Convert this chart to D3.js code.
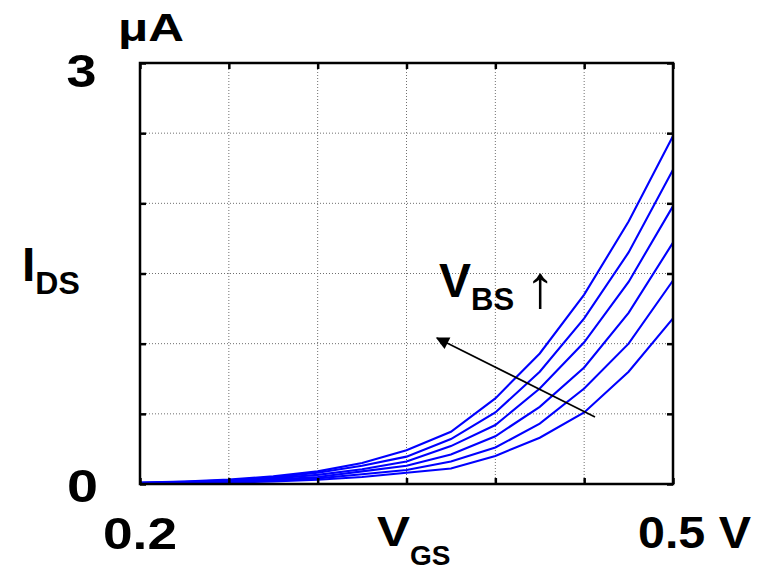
<!DOCTYPE html>
<html>
<head>
<meta charset="utf-8">
<script src="https://cdn.jsdelivr.net/npm/d3@7"></script>
<style>
  html, body { margin: 0; padding: 0; background: #fff; }
  svg { display: block; }
  text { font-family: "Liberation Sans", Arial, Helvetica, sans-serif; font-weight: bold; fill: #000; }
</style>
</head>
<body>
<svg id="chart" width="770" height="572"></svg>
<script>
// Gate voltage samples (V)
const vgs = [0.2, 0.225, 0.25, 0.275, 0.3, 0.325, 0.35, 0.375, 0.4, 0.425, 0.45, 0.475, 0.5];

// Drain current (µA) for increasing body bias, top curve first
const ids1 = [0.010, 0.018, 0.032, 0.055, 0.090, 0.150, 0.240, 0.372, 0.610, 0.930, 1.350, 1.870, 2.480];
const ids2 = [0.008, 0.015, 0.027, 0.047, 0.080, 0.130, 0.195, 0.320, 0.510, 0.800, 1.180, 1.650, 2.240];
const ids3 = [0.006, 0.012, 0.022, 0.040, 0.065, 0.105, 0.160, 0.270, 0.420, 0.680, 1.010, 1.440, 1.980];
const ids4 = [0.005, 0.010, 0.018, 0.032, 0.050, 0.090, 0.130, 0.210, 0.340, 0.550, 0.830, 1.220, 1.720];
const ids5 = [0.004, 0.008, 0.014, 0.025, 0.040, 0.070, 0.100, 0.160, 0.260, 0.430, 0.680, 1.000, 1.450];
const ids6 = [0.003, 0.006, 0.010, 0.018, 0.030, 0.050, 0.080, 0.110, 0.200, 0.330, 0.510, 0.800, 1.180];
const seriesList = [ids1, ids2, ids3, ids4, ids5, ids6];

// Grid positions
const xTicks = [0.2, 0.25, 0.3, 0.35, 0.4, 0.45, 0.5];
const yTicks = [0, 0.5, 1, 1.5, 2, 2.5, 3];

// End labels of the axes
const xEndLabels = ["0.2", "0.5 V"];
const yEndLabels = ["0", "3"];

const svg = d3.select("#chart");
const pLeft = 140, pRight = 673, pTop = 63, pBottom = 484;

const x = d3.scaleLinear().domain([0.2, 0.5]).range([pLeft, pRight]);
const y = d3.scaleLinear().domain([0, 3]).range([pBottom, pTop]);

// Dotted grid
const grid = svg.append("g");
grid.selectAll("line.v").data(xTicks).join("line").attr("class", "v")
  .attr("x1", d => x(d)).attr("x2", d => x(d))
  .attr("y1", pTop).attr("y2", pBottom)
  .attr("stroke", "#6f6f6f").attr("stroke-width", 1).attr("stroke-dasharray", "1,2");
grid.selectAll("line.h").data(yTicks).join("line").attr("class", "h")
  .attr("x1", pLeft).attr("x2", pRight)
  .attr("y1", d => y(d)).attr("y2", d => y(d))
  .attr("stroke", "#6f6f6f").attr("stroke-width", 1).attr("stroke-dasharray", "1,2");

// Current curves
const line = d3.line().x((d, i) => x(vgs[i])).y(d => y(d));
svg.append("g").selectAll("path").data(seriesList).join("path")
  .attr("d", line)
  .attr("fill", "none")
  .attr("stroke", "#0000ff")
  .attr("stroke-width", 2.1);

// Inward ticks on all four sides
const tickLen = 6;
const axBottom = d3.axisTop(x).tickValues(xTicks).tickSize(tickLen).tickFormat("");
const axTop = d3.axisBottom(x).tickValues(xTicks).tickSize(tickLen).tickFormat("");
const axLeft = d3.axisRight(y).tickValues(yTicks).tickSize(tickLen).tickFormat("");
const axRight = d3.axisLeft(y).tickValues(yTicks).tickSize(tickLen).tickFormat("");
[[axBottom, `translate(0,${pBottom})`], [axTop, `translate(0,${pTop})`],
 [axLeft, `translate(${pLeft},0)`], [axRight, `translate(${pRight},0)`]].forEach(([ax, tr]) => {
  const g = svg.append("g").attr("transform", tr).call(ax);
  g.select(".domain").remove();
  g.selectAll(".tick line").attr("stroke", "#000").attr("stroke-width", 2.5);
});

// Frame
svg.append("rect")
  .attr("x", pLeft).attr("y", pTop)
  .attr("width", pRight - pLeft).attr("height", pBottom - pTop)
  .attr("fill", "none").attr("stroke", "#000").attr("stroke-width", 2.5);

// Body-bias arrow
svg.append("defs").append("marker")
  .attr("id", "head").attr("viewBox", "0 0 10 10")
  .attr("refX", 9).attr("refY", 5)
  .attr("markerWidth", 17).attr("markerHeight", 13)
  .attr("markerUnits", "userSpaceOnUse")
  .attr("orient", "auto")
  .append("path").attr("d", "M0,0 L10,5 L0,10 z").attr("fill", "#000");
svg.append("line")
  .attr("x1", 595).attr("y1", 417)
  .attr("x2", 437).attr("y2", 338)
  .attr("stroke", "#000").attr("stroke-width", 1.6)
  .attr("marker-end", "url(#head)");

// Wide bold end labels
function wide(txt, xp, yp, size, len, anchor) {
  return svg.append("text")
    .attr("x", xp).attr("y", yp)
    .attr("text-anchor", anchor || "start")
    .attr("textLength", len).attr("lengthAdjust", "spacingAndGlyphs")
    .style("font-size", size + "px").text(txt);
}

wide("μA", 118, 41, 38, 66);
wide(yEndLabels[1], 81.5, 87, 46, 30, "middle");
wide(yEndLabels[0], 82.5, 502, 46, 31, "middle");
wide(xEndLabels[0], x(0.2), 549, 45, 74, "middle");
wide(xEndLabels[1], 638, 548, 45, 113);

// I_DS
const iLab = svg.append("text").attr("x", 22).attr("y", 281).style("font-size", "48px");
iLab.append("tspan").text("I");
iLab.append("tspan").attr("dy", 13).style("font-size", "32px").text("DS");

// V_GS
const vLab = svg.append("text").attr("x", 377).attr("y", 546).style("font-size", "42px");
vLab.append("tspan").attr("textLength", 33).attr("lengthAdjust", "spacingAndGlyphs").text("V");
vLab.append("tspan").attr("dy", 19).style("font-size", "28px").text("GS");

// V_BS with rising arrow
const bLab = svg.append("text").attr("x", 439).attr("y", 297).style("font-size", "48px");
bLab.append("tspan").text("V");
bLab.append("tspan").attr("dy", 13).style("font-size", "31px").text("BS");
svg.append("text").attr("x", 525).attr("y", 307)
  .style("font-size", "60px").style("font-weight", "normal").text("↑");
</script>
</body>
</html>
